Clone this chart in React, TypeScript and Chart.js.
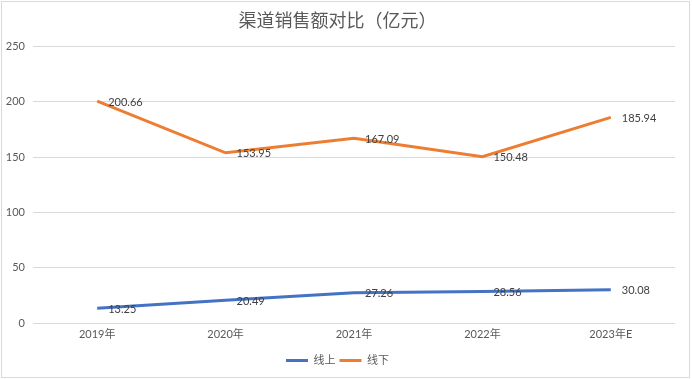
import React, { useEffect, useRef } from "react";
import { Chart, registerables } from "chart.js";

Chart.register(...registerables);

const categories = ["2019年", "2020年", "2021年", "2022年", "2023年E"];
const onlineValues = [13.25, 20.49, 27.26, 28.56, 30.08];
const offlineValues = [200.66, 153.95, 167.09, 150.48, 185.94];
const seriesNames = ["线上", "线下"];
const titleText = "渠道销售额对比（亿元）";

const frameAndLabels = {
  id: "frameAndLabels",
  beforeDraw(chart: any) {
    const ctx = chart.ctx;
    ctx.save();
    ctx.fillStyle = "#ffffff";
    ctx.fillRect(0, 0, chart.width, chart.height);
    ctx.strokeStyle = "#d9d9d9";
    ctx.lineWidth = 1;
    ctx.strokeRect(1.5, 1.5, 688, 376);
    ctx.restore();
  },
  afterDatasetsDraw(chart: any) {
    const ctx = chart.ctx;
    ctx.save();
    ctx.font = "11px Lato, 'Noto Sans CJK SC', sans-serif";
    ctx.fillStyle = "#404040";
    ctx.textAlign = "left";
    ctx.textBaseline = "middle";
    chart.data.datasets.forEach((ds: any, i: number) => {
      const meta = chart.getDatasetMeta(i);
      meta.data.forEach((pt: any, j: number) => {
        const v = ds.data[j] as number;
        ctx.fillText(v.toFixed(2), pt.x + 11, pt.y + 1);
      });
    });
    ctx.restore();
  },
};

export default function App() {
  const ref = useRef<HTMLCanvasElement | null>(null);
  useEffect(() => {
    if (!ref.current) return;
    const chart = new Chart(ref.current, {
      type: "line",
      data: {
        labels: categories,
        datasets: [
          {
            label: seriesNames[0],
            data: onlineValues,
            borderColor: "#4472C4",
            backgroundColor: "#4472C4",
            borderWidth: 3,
            pointRadius: 0,
            tension: 0,
          },
          {
            label: seriesNames[1],
            data: offlineValues,
            borderColor: "#ED7D31",
            backgroundColor: "#ED7D31",
            borderWidth: 3,
            pointRadius: 0,
            tension: 0,
          },
        ],
      },
      options: {
        animation: false,
        responsive: false,
        maintainAspectRatio: false,
        layout: { padding: { left: 0, right: 17, top: 0, bottom: 3 } },
        plugins: {
          title: {
            display: true,
            text: titleText,
            color: "#595959",
            font: { family: "'Noto Sans CJK SC', sans-serif", size: 18, weight: "normal" },
            padding: { top: 9, bottom: 16 },
          },
          legend: {
            position: "bottom",
            labels: {
              usePointStyle: true,
              pointStyle: "line",
              pointStyleWidth: 22,
              color: "#595959",
              font: { family: "Lato, 'Noto Sans CJK SC', sans-serif", size: 11 },
              padding: 4,
            },
          },
          tooltip: { enabled: false },
        },
        scales: {
          x: {
            offset: true,
            grid: { display: false, drawTicks: false },
            border: { display: false },
            afterFit(scale: any) {
              scale.height = 28;
            },
            ticks: {
              color: "#595959",
              font: { family: "Lato, 'Noto Sans CJK SC', sans-serif", size: 11 },
              padding: 5,
              maxRotation: 0,
            },
          },
          y: {
            min: 0,
            max: 250,
            grid: { color: "#d9d9d9", drawTicks: false },
            border: { display: false },
            afterFit(scale: any) {
              scale.width = 33;
            },
            ticks: {
              stepSize: 50,
              color: "#595959",
              font: { family: "Lato, sans-serif", size: 11 },
              padding: 8,
            },
          },
        },
      },
      plugins: [frameAndLabels],
    } as any);
    return () => chart.destroy();
  }, []);
  return (
    <div style={{ position: "fixed", left: 0, top: 0, width: 692, height: 379 }}>
      <canvas ref={ref} width={692} height={379} style={{ width: 692, height: 379 }} />
    </div>
  );
}
